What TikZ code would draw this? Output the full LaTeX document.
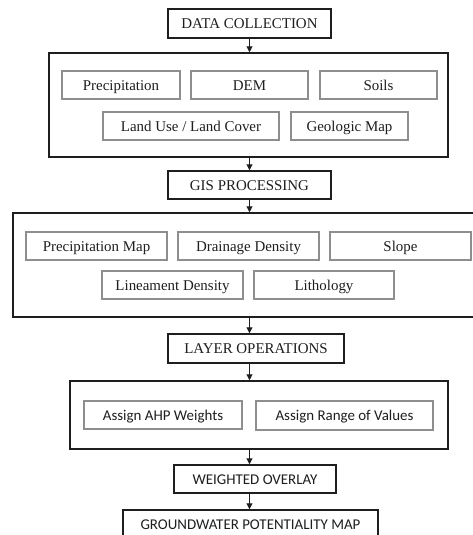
\documentclass[tikz,border=0pt]{standalone}
\usepackage{fontspec}
\setmainfont{Liberation Serif}
\newfontfamily\calfont{Carlito}
\usetikzlibrary{arrows.meta}
\definecolor{ink}{HTML}{1E1E1E}
\definecolor{inner}{HTML}{8E8E8E}
\newcommand\bx[7]{\node[#2, minimum width={(#5-#3)*0.75pt}, minimum height={(#6-#4)*0.75pt}] (#1) at ({(#3+#5)/2},{(#4+#6)/2}) {#7};}
\tikzset{
  outerbox/.style={draw=ink, line width=1.1pt, inner sep=0pt, text=ink, text height=9pt, text depth=1pt, font=\fontsize{11.2}{13}\selectfont},
  innerbox/.style={draw=inner, line width=0.8pt, inner sep=0pt, text=ink, text height=9pt, text depth=1pt, font=\fontsize{11.2}{13}\selectfont},
  calouter/.style={outerbox, font=\calfont\fontsize{11.2}{13}\selectfont},
  calinner/.style={innerbox, font=\calfont\fontsize{11.2}{13}\selectfont},
  flow/.style={draw=ink, line width=0.75pt, -{Triangle[width=4.5pt,length=4.5pt]}}
}
\begin{document}
\begin{tikzpicture}[x=0.75pt,y=-0.75pt]
\useasboundingbox (0,0) rectangle (473,535);
\fill[white] (0,0) rectangle (473,535);
\coordinate (ax) at (249.5,0);
% stage 1
\bx{dc}{outerbox}{168}{9}{331}{38}{DATA COLLECTION}
\bx{b1}{outerbox}{49}{53}{448}{157}{}
\bx{p}{innerbox}{62}{71}{180}{99}{Precipitation}
\bx{dem}{innerbox}{191}{71}{308}{99}{DEM}
\bx{soils}{innerbox}{320}{71}{437}{99}{Soils}
\bx{lu}{innerbox}{103}{112}{279}{140}{Land Use / Land Cover}
\bx{geo}{innerbox}{291}{112}{408}{140}{Geologic Map}
% stage 2
\bx{gis}{outerbox}{168}{171}{331}{199}{GIS PROCESSING}
\bx{b2}{outerbox}{13}{213}{480}{317}{}
\bx{pm}{innerbox}{26}{232}{167}{260}{Precipitation Map}
\bx{dd}{innerbox}{178}{232}{319}{260}{Drainage Density}
\bx{sl}{innerbox}{330}{232}{471}{260}{Slope}
\bx{ld}{innerbox}{102}{271}{243}{299}{Lineament Density}
\bx{li}{innerbox}{254}{271}{394}{299}{Lithology}
% stage 3
\bx{lo}{outerbox}{168}{334}{344}{363}{LAYER OPERATIONS}
\bx{b3}{outerbox}{70}{381}{448}{449}{}
\bx{ahp}{calinner}{84}{401}{242}{429}{Assign AHP Weights}
\bx{rv}{calinner}{256}{401}{433}{430}{Assign Range of Values}
\bx{wo}{calouter}{174}{465}{336}{493}{WEIGHTED OVERLAY}
\bx{gw}{calouter}{123}{510}{378}{538}{GROUNDWATER POTENTIALITY MAP}
% arrows
\draw[flow] (dc.south -| ax) -- (b1.north -| ax);
\draw[flow] (b1.south -| ax) -- (gis.north -| ax);
\draw[flow] (gis.south -| ax) -- (b2.north -| ax);
\draw[flow] (b2.south -| ax) -- (lo.north -| ax);
\draw[flow] (lo.south -| ax) -- (b3.north -| ax);
\draw[flow] (b3.south -| ax) -- (wo.north -| ax);
\draw[flow] (wo.south -| ax) -- (gw.north -| ax);
\end{tikzpicture}
\end{document}
